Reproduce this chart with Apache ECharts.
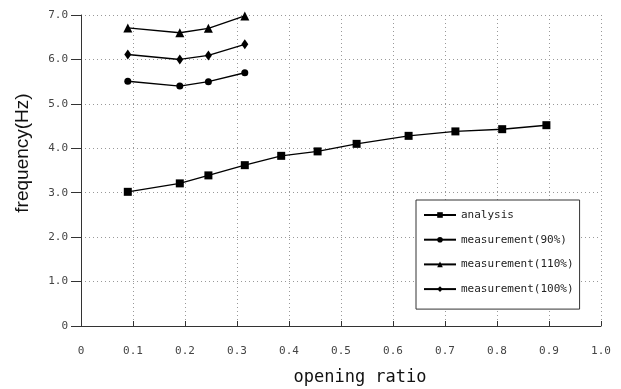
<!DOCTYPE html>
<html>
<head>
<meta charset="utf-8">
<script src="https://cdn.jsdelivr.net/npm/echarts@6/dist/echarts.min.js"></script>
<style>html,body{margin:0;padding:0;background:#fff}#c{width:621px;height:389px}</style>
</head>
<body>
<div id="c"></div>
<script>
var xAnalysis = [0.09, 0.19, 0.245, 0.315, 0.385, 0.455, 0.53, 0.63, 0.72, 0.81, 0.895];
var analysis = [3.02, 3.21, 3.39, 3.62, 3.83, 3.93, 4.10, 4.28, 4.38, 4.43, 4.52];
var xMeas = [0.09, 0.19, 0.245, 0.315];
var meas90 = [5.51, 5.40, 5.50, 5.70];
var meas110 = [6.71, 6.60, 6.70, 6.98];
var meas100 = [6.11, 6.00, 6.09, 6.34];
var seriesNames = ['analysis', 'measurement(90%)', 'measurement(110%)', 'measurement(100%)'];

function pairs(xs, ys) { return xs.map(function (x, i) { return [x, ys[i]]; }); }
function fmt(v) { return v === 0 ? '0' : v.toFixed(1); }

var chart = echarts.init(document.getElementById('c'), null, {renderer: 'canvas'});
var mono = 'DejaVu Sans Mono';
var lineStyle = {color: '#000', width: 1.4};
function mk(name, data, symbol, size) {
  return {
    name: name, type: 'line', data: data, symbol: symbol, symbolSize: size,
    showAllSymbol: true, clip: false,
    lineStyle: lineStyle, itemStyle: {color: '#000'},
    emphasis: {disabled: true}, animation: false
  };
}
chart.setOption({
  animation: false,
  grid: {left: 81, right: 20, top: 15, bottom: 63, containLabel: false, outerBoundsMode: 'none'},
  legend: {
    orient: 'vertical', left: 416, top: 200,
    data: seriesNames,
    backgroundColor: '#fff', borderColor: '#333', borderWidth: 1,
    padding: [9, 6, 14, 7],
    itemWidth: 32, itemHeight: 7, itemGap: 12.7,
    textStyle: {fontFamily: mono, fontSize: 11, lineHeight: 12, color: '#222'}
  },
  xAxis: {
    type: 'value', min: 0, max: 1, interval: 0.1,
    name: 'opening ratio', nameLocation: 'middle', nameGap: 43,
    nameTextStyle: {fontFamily: mono, fontSize: 17, color: '#111', padding: [0, 0, 0, 38]},
    axisLine: {show: true, lineStyle: {color: '#333', width: 1}},
    axisTick: {show: true, inside: true, length: 5, lineStyle: {color: '#333'}},
    axisLabel: {formatter: fmt, margin: 20, fontFamily: mono, fontSize: 11, color: '#444'},
    splitLine: {show: true, lineStyle: {color: '#999', type: [1, 3], width: 1}}
  },
  yAxis: {
    type: 'value', min: 0, max: 7, interval: 1,
    name: 'frequency(Hz)', nameLocation: 'middle', nameGap: 49,
    nameTextStyle: {fontFamily: 'Liberation Sans', fontSize: 19, color: '#111', padding: [0, 0, 0, 35]},
    axisLine: {show: true, lineStyle: {color: '#333', width: 1}},
    axisTick: {show: true, inside: false, length: 10, lineStyle: {color: '#333'}},
    axisLabel: {formatter: fmt, margin: 13, fontFamily: mono, fontSize: 11, color: '#444'},
    splitLine: {show: true, lineStyle: {color: '#999', type: [1, 3], width: 1}}
  },
  series: [
    mk(seriesNames[0], pairs(xAnalysis, analysis), 'rect', 8),
    mk(seriesNames[1], pairs(xMeas, meas90), 'circle', 7),
    mk(seriesNames[2], pairs(xMeas, meas110), 'triangle', 9),
    mk(seriesNames[3], pairs(xMeas, meas100), 'diamond', [7, 10])
  ]
});
</script>
</body>
</html>
